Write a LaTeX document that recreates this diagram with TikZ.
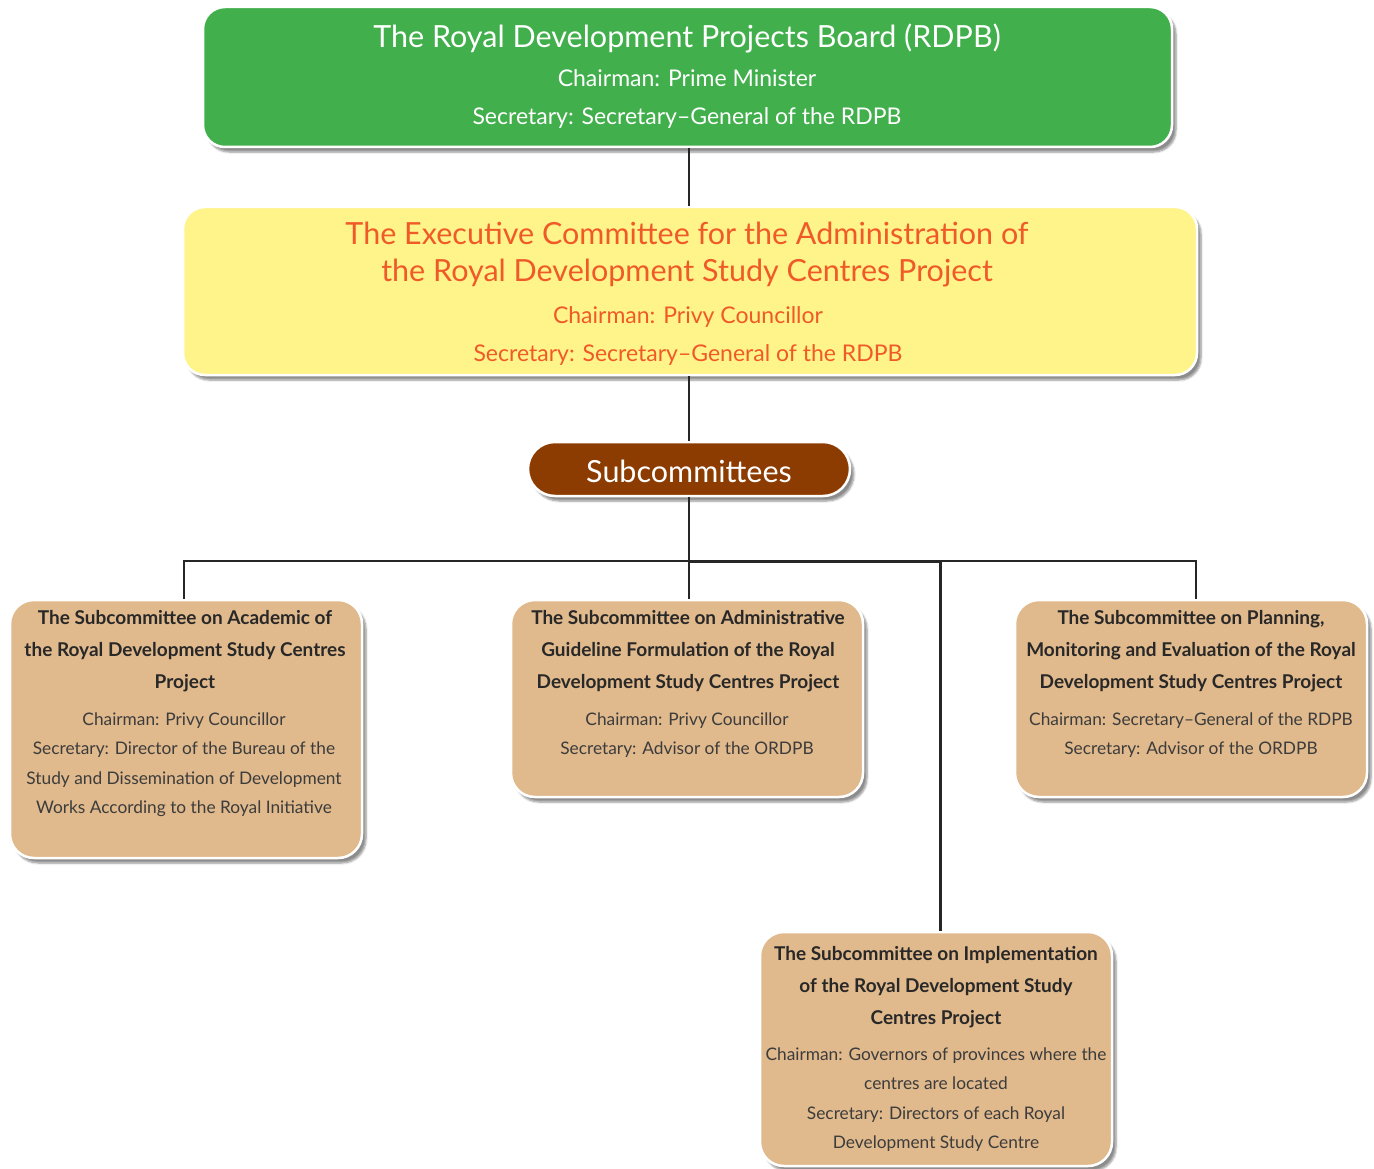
\documentclass[tikz,border=0pt]{standalone}
\usepackage{fontspec}
\setmainfont{Lato}
\usetikzlibrary{shadows.blur}
\definecolor{gfill}{RGB}{65,175,75}
\definecolor{yfill}{RGB}{255,244,138}
\definecolor{bfill}{RGB}{140,60,0}
\definecolor{tfill}{RGB}{224,185,140}
\definecolor{otext}{RGB}{240,90,40}
\definecolor{dtext}{RGB}{40,40,40}
\definecolor{ltext}{RGB}{60,60,60}
\tikzset{
  box/.style={draw=white, line width=2.5pt, rounded corners=22pt,
    blur shadow={shadow xshift=4pt, shadow yshift=-5pt, shadow blur steps=6, shadow opacity=45}},
  subbox/.style={box, fill=tfill, minimum width=352pt, rounded corners=24pt},
  conn/.style={draw=black!85, line width=2pt},
  btitle/.style={dtext, font=\bfseries\fontsize{19}{32}\selectfont, align=center, inner sep=0pt},
  bdet/.style={ltext, font=\fontsize{17.3}{29.5}\selectfont, align=center, inner sep=0pt},
}
\begin{document}
\begin{tikzpicture}[x=1pt,y=-1pt]
\useasboundingbox (0,0) rectangle (1374,1169);
% boxes
\node[box, fill=gfill, minimum width=969pt, minimum height=140pt] (rdpb) at (687.5,77) {};
\node[box, fill=yfill, minimum width=1014pt, minimum height=168pt] (exec) at (690,291) {};
\node[box, fill=bfill, minimum width=322pt, minimum height=54pt, rounded corners=27pt] (sub) at (689,469) {};
\node[subbox, minimum height=258pt] (b1) at (186,729) {};
\node[subbox, minimum height=197pt] (b2) at (687,698.5) {};
\node[subbox, minimum height=197pt] (b3) at (1191,698.5) {};
\node[subbox, minimum height=234pt] (b4) at (936,1049) {};
% connectors
\coordinate (j) at (688.5,561);
\draw[conn] (rdpb.south -| j) -- (exec.north -| j);
\draw[conn] (exec.south -| j) -- (sub.north -| j);
\draw[conn] (sub.south -| j) -- (j);
\draw[conn] ([xshift=-2pt]b1.north) |- (j);
\draw[conn] ([xshift=5pt]b3.north) |- (j);
\draw[conn] (b2.north -| j) -- (j);
\draw[conn, line width=3pt] ([xshift=4pt]b4.north) |- (j);
% texts
\node[white, font=\fontsize{30.5}{37}\selectfont, inner sep=0pt] (t1) at (687,38) {The Royal Development Projects Board (RDPB)};
\node[white, font=\fontsize{23}{38}\selectfont, align=center, inner sep=0pt] (t1b) at (687,99.5) {Chairman: Prime Minister\\Secretary: Secretary–General of the RDPB};
\node[otext, font=\fontsize{30.5}{37}\selectfont, align=center, inner sep=0pt] (t2) at (687,254.5) {The Executive Committee for the Administration of\\the Royal Development Study Centres Project};
\node[otext, font=\fontsize{23}{38}\selectfont, align=center, inner sep=0pt] (t2b) at (688,336.5) {Chairman: Privy Councillor\\Secretary: Secretary–General of the RDPB};
\node[white, font=\fontsize{30.5}{34}\selectfont, inner sep=0pt] (t3) at (689,471) {Subcommittees};
\node[btitle] (s1) at (185,651.5) {The Subcommittee on Academic of\\the Royal Development Study Centres\\Project};
\node[bdet] (s1b) at (184,764.5) {Chairman: Privy Councillor\\Secretary: Director of the Bureau of the\\Study and Dissemination of Development\\Works According to the Royal Initiative};
\node[btitle] (s2) at (688,651.5) {The Subcommittee on Administrative\\Guideline Formulation of the Royal\\Development Study Centres Project};
\node[bdet] (s2b) at (687,735) {Chairman: Privy Councillor\\Secretary: Advisor of the ORDPB};
\node[btitle] (s3) at (1191,651.5) {The Subcommittee on Planning,\\Monitoring and Evaluation of the Royal\\Development Study Centres Project};
\node[bdet] (s3b) at (1191,735) {Chairman: Secretary–General of the RDPB\\Secretary: Advisor of the ORDPB};
\node[btitle] (s4) at (936,987.5) {The Subcommittee on Implementation\\of the Royal Development Study\\Centres Project};
\node[bdet] (s4b) at (936,1099.5) {Chairman: Governors of provinces where the\\centres are located\\Secretary: Directors of each Royal\\Development Study Centre};
\end{tikzpicture}
\end{document}
